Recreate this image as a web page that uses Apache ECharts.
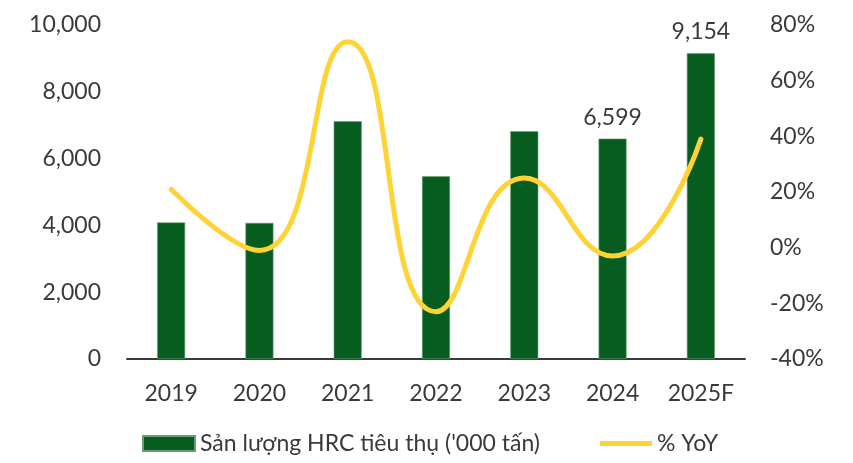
<!DOCTYPE html>
<html>
<head>
<meta charset="utf-8">
<script src="https://cdn.jsdelivr.net/npm/echarts@6/dist/echarts.min.js"></script>
<style>
  html, body { margin: 0; padding: 0; background: #ffffff; }
  #chart { width: 853px; height: 463px; }
</style>
</head>
<body>
<div id="chart"></div>
<script>
// HRC consumption volume ('000 tonnes) and year-on-year growth
const years = ['2019', '2020', '2021', '2022', '2023', '2024', '2025F'];
const volume = [4090, 4075, 7120, 5470, 6820, 6599, 9154];
const yoy = [21, -1, 74, -23, 25, -3, 39];
const labelledYears = ['2024', '2025F'];

const barName = "Sản lượng HRC tiêu thụ ('000 tấn)";
const lineName = '% YoY';
const font = 'Lato';
const fontSize = 23;
const textColor = '#3a3a3a';

const chart = echarts.init(document.getElementById('chart'), null, { renderer: 'canvas' });

chart.setOption({
  animation: false,
  textStyle: { fontFamily: font },
  grid: { left: 127, right: 108, top: 25, bottom: 104 },
  legend: {
    bottom: 3,
    left: 137,
    itemGap: 60,
    itemWidth: 52,
    itemHeight: 15,
    itemTextGap: 6,
    textStyle: { fontFamily: font, fontSize: fontSize, color: textColor },
    data: [
      { name: barName, icon: 'rect' },
      { name: lineName, icon: 'path://M0,0 L52,0 L52,5 L0,5 Z' }
    ]
  },
  xAxis: {
    type: 'category',
    data: years,
    axisLine: { lineStyle: { color: '#3a3a3a', width: 2 } },
    axisTick: { show: false },
    axisLabel: { fontFamily: font, fontSize: fontSize, color: textColor, margin: 23 }
  },
  yAxis: [
    {
      type: 'value',
      min: 0, max: 10000, interval: 2000,
      splitLine: { show: false },
      axisLine: { show: false },
      axisTick: { show: false },
      axisLabel: {
        fontFamily: font, fontSize: fontSize, color: textColor, margin: 26,
        formatter: v => v.toLocaleString('en-US')
      }
    },
    {
      type: 'value',
      min: -40, max: 80, interval: 20,
      splitLine: { show: false },
      axisLine: { show: false },
      axisTick: { show: false },
      axisLabel: {
        fontFamily: font, fontSize: fontSize, color: textColor, margin: 25,
        formatter: v => v + '%'
      }
    }
  ],
  series: [
    {
      name: barName,
      type: 'bar',
      yAxisIndex: 0,
      barWidth: 28,
      itemStyle: { color: '#075d1f', borderColor: '#6a9f76', borderWidth: 0.6 },
      data: volume.map((v, i) => ({
        value: v,
        label: {
          show: labelledYears.includes(years[i]),
          position: 'top',
          distance: 10,
          fontFamily: font, fontSize: fontSize, color: textColor,
          formatter: p => p.value.toLocaleString('en-US')
        }
      }))
    },
    {
      name: lineName,
      type: 'line',
      yAxisIndex: 1,
      data: yoy,
      smooth: 0.5,
      symbol: 'none',
      lineStyle: { color: '#ffd335', width: 5, cap: 'round' },
      itemStyle: { color: '#ffd335' }
    }
  ]
});
</script>
</body>
</html>
